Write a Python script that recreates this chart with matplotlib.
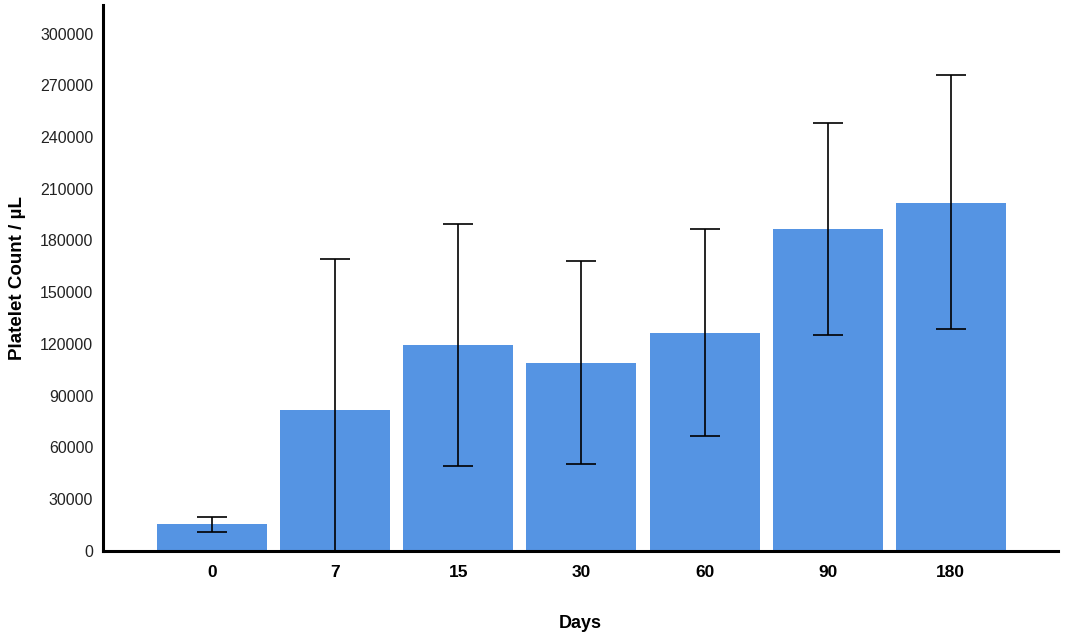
import numpy as np
import matplotlib
matplotlib.use("Agg")
import matplotlib.pyplot as plt

days = ["0", "7", "15", "30", "60", "90", "180"]
mean_count = [15500, 82000, 119500, 109200, 126500, 186800, 202000]
err_low = [11000, 0, 49300, 50500, 66700, 125300, 128800]
err_high = [19800, 169000, 189700, 168300, 186800, 248400, 276200]
y_ticks = list(range(0, 300001, 30000))

plt.rcParams['font.family'] = ['Liberation Sans', 'DejaVu Sans']

fig = plt.figure(figsize=(10.68, 6.34), dpi=100)
ax = fig.add_axes([0.0964, 0.131, 0.8942, 0.861])

x = np.arange(len(days))
mean_arr = np.array(mean_count)
yerr = [mean_arr - np.array(err_low), np.array(err_high) - mean_arr]

ax.bar(x, mean_count, width=0.893, color='#5594e3', zorder=2)
ax.errorbar(x, mean_count, yerr=yerr, fmt='none', ecolor='black',
            elinewidth=1.2, capsize=11, capthick=1.2, zorder=3)

ax.set_xlim(-0.885, 6.87)
ax.set_ylim(0, 316500)
ax.set_xticks(x)
ax.set_xticklabels(days, fontsize=12.5, fontweight='bold')
ax.set_yticks(y_ticks)
ax.set_yticklabels([str(t) for t in y_ticks], fontsize=11.5, color='#222222')
ax.tick_params(axis='both', length=0)
ax.tick_params(axis='x', pad=10)
ax.tick_params(axis='y', pad=7)

for side in ['top', 'right']:
    ax.spines[side].set_visible(False)
for side in ['left', 'bottom']:
    ax.spines[side].set_linewidth(2.2)

ax.set_xlabel('Days', fontsize=13, fontweight='bold', labelpad=25)
ax.set_ylabel('Platelet Count / µL', fontsize=13.5, fontweight='bold', labelpad=10)

fig.savefig('out.png', dpi=100)
